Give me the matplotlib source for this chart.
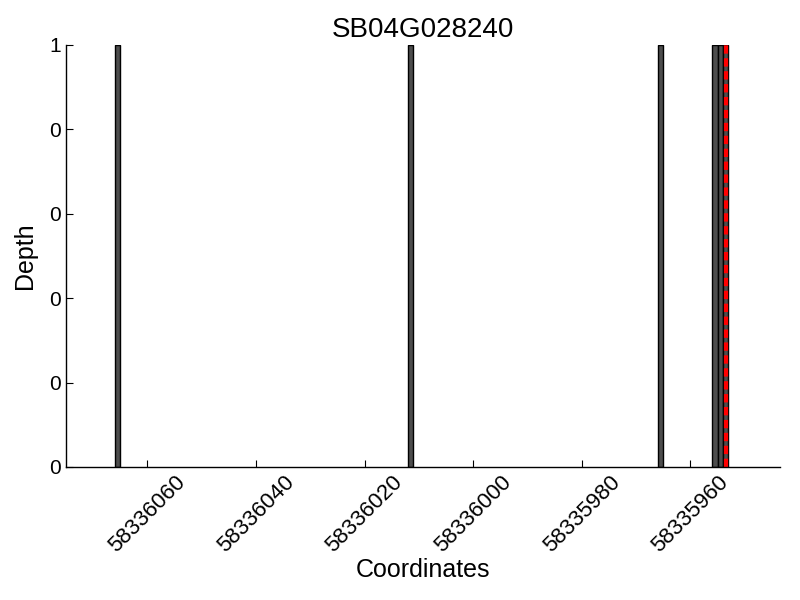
import matplotlib
matplotlib.use("Agg")
import matplotlib.pyplot as plt
import numpy as np

plt.rcParams['font.family'] = ['Liberation Sans', 'DejaVu Sans']

title = "SB04G028240"
positions = [58336065, 58336011, 58335965, 58335955, 58335954, 58335953]
depths = [1, 1, 1, 1, 1, 1]
marker_pos = 58335953.5
xticks = [58336060, 58336040, 58336020, 58336000, 58335980, 58335960]
yticks = [0, 0.2, 0.4, 0.6, 0.8, 1.0]

fig = plt.figure(figsize=(8, 6), dpi=100)
ax = fig.add_axes([0.0825, 0.2217, 0.8925, 0.7033])

ax.bar(positions, depths, width=1, align='edge', color='#4d4d4d',
       edgecolor='black', linewidth=1)
ax.axvline(marker_pos, color='red', linestyle='--', linewidth=3, dashes=(2, 1.1))

ax.set_xlim(58336075, 58335943.5)
ax.set_ylim(0, 1)
ax.set_xticks(xticks)
ax.set_xticklabels([str(t) for t in xticks], rotation=45, fontsize=16)
ax.set_yticks(yticks)
ax.set_yticklabels([str(int(t)) for t in yticks], fontsize=15)
ax.tick_params(direction='in', length=5, top=False, right=False)

for s in ['top', 'right']:
    ax.spines[s].set_visible(False)
for s in ['left', 'bottom']:
    ax.spines[s].set_linewidth(1)

ax.set_xlabel('Coordinates', fontsize=18, labelpad=1)
ax.set_ylabel('Depth', fontsize=18, labelpad=9)
ax.set_title(title, fontsize=20)

fig.savefig('out.png', dpi=100)
